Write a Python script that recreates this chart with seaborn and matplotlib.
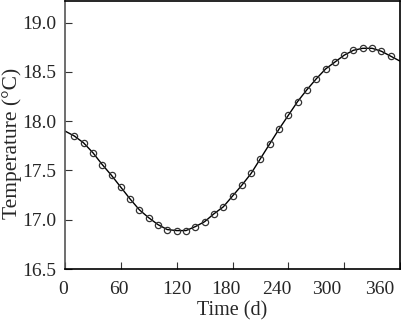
import matplotlib
matplotlib.use("Agg")
import matplotlib.pyplot as plt
import matplotlib.transforms as mtransforms
import seaborn as sns
import pandas as pd

# Values (marker every 10 days)
days = [0, 10, 20, 30, 40, 50, 60, 70, 80, 90, 100, 110, 120, 130, 140, 150, 160, 170, 180,
        190, 200, 210, 220, 230, 240, 250, 260, 270, 280, 290, 300, 310, 320, 330, 340, 350, 360]
temperature = [17.90, 17.85, 17.78, 17.68, 17.56, 17.45, 17.33, 17.21, 17.10, 17.02, 16.95,
               16.90, 16.89, 16.89, 16.93, 16.98, 17.06, 17.13, 17.24, 17.35, 17.47, 17.62,
               17.77, 17.92, 18.06, 18.20, 18.32, 18.43, 18.53, 18.60, 18.67, 18.72, 18.74,
               18.74, 18.71, 18.66, 18.61]
x_ticks = [0, 60, 120, 180, 240, 300, 360]
y_ticks = [16.5, 17.0, 17.5, 18.0, 18.5, 19.0]

df = pd.DataFrame({"Time": days, "Temperature": temperature})

sns.set_style("ticks")
plt.rcParams["font.family"] = ["Liberation Serif", "DejaVu Serif"]

fig = plt.figure(figsize=(4.01, 3.21), dpi=100)
ax = fig.add_axes([65 / 401, 52 / 321, 335 / 401, 268 / 321])

sns.lineplot(data=df, x="Time", y="Temperature", ax=ax, color="black", linewidth=1.0,
             marker="o", markersize=4.5, markerfacecolor="none", markeredgecolor="#333333",
             markeredgewidth=0.9, markevery=slice(1, -1))

ax.set_xlim(0, 360)
ax.set_ylim(16.5, 19.22)
ax.set_xticks(x_ticks)
ax.set_yticks(y_ticks)
ax.set_yticklabels([f"{v:.1f}" for v in y_ticks])
ax.tick_params(direction="in", length=5, width=0.8, labelsize=14, color="#333333")
ax.tick_params(axis="x", pad=9)
ax.tick_params(axis="y", pad=6)
for side in ["left", "right", "top", "bottom"]:
    ax.spines[side].set_visible(True)
    ax.spines[side].set_linewidth(1.2)
    ax.spines[side].set_color("black")
ax.spines["left"].set_color("#555555")

# the original x labels drift left of their ticks; mimic that so "360" stays inside
shifts = [-2, -2, 0, -7, -12, -17, -20]
for lbl, dx in zip(ax.get_xticklabels(), shifts):
    lbl.set_transform(lbl.get_transform() + mtransforms.ScaledTranslation(dx / 100, 0, fig.dpi_scale_trans))

ax.set_xlabel("Time (d)", fontsize=14.5, labelpad=2)
ax.set_ylabel("Temperature (\u00b0C)", fontsize=15.5)
ax.yaxis.set_label_coords(-0.127, 0.468)

fig.savefig("out.png", dpi=100)
